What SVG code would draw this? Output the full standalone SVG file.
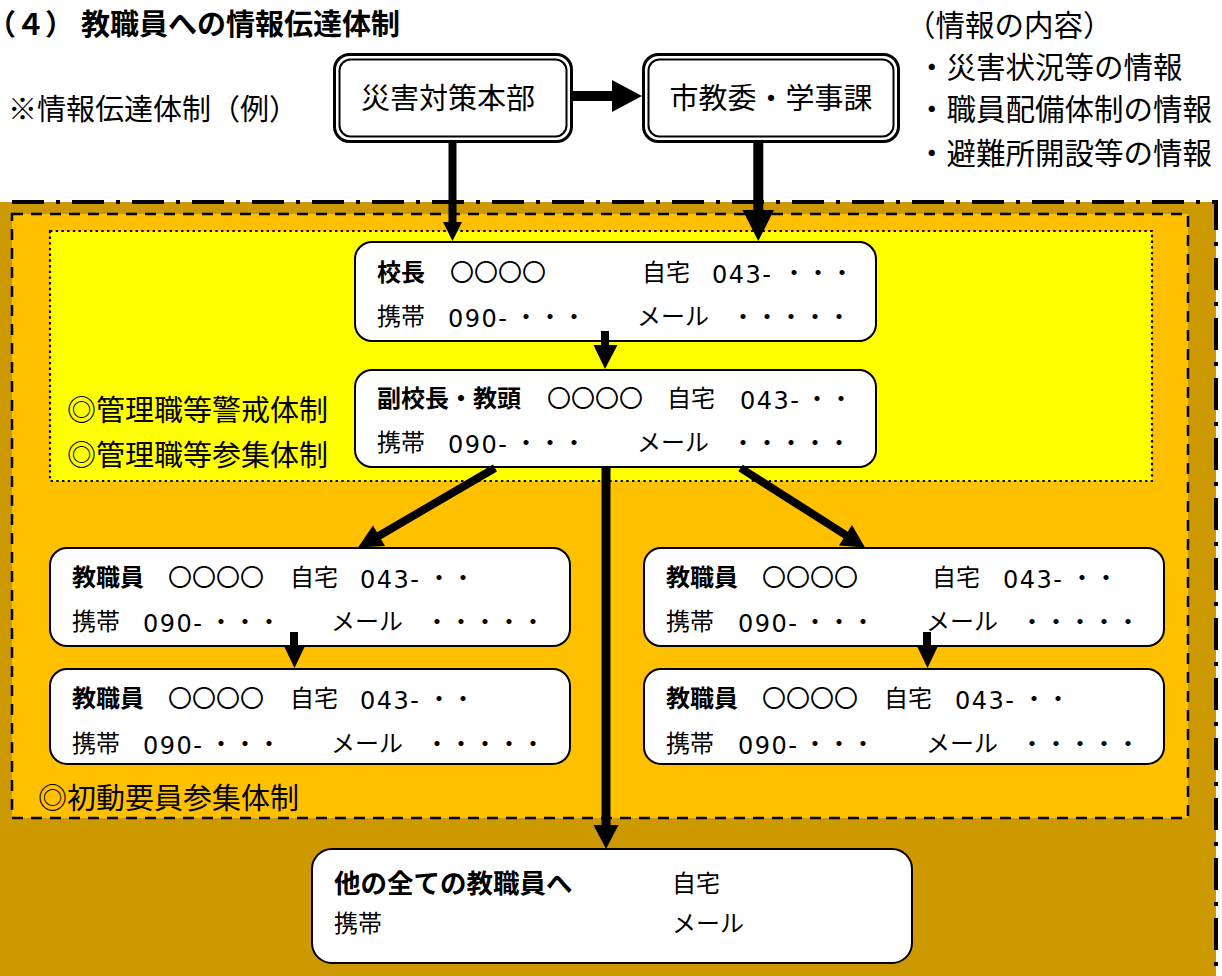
<svg xmlns="http://www.w3.org/2000/svg" width="1222" height="976" viewBox="0 0 1222 976">
<style>
text{font-family:'Noto Sans CJK JP','Noto Sans CJK SC',sans-serif;fill:#000}
.L{font-size:29px}
.B{font-size:29px;font-weight:bold}
.r{font-size:24px}
.b{font-size:24px;font-weight:bold}
.n{font-family:'DejaVu Sans',sans-serif;letter-spacing:1.5px;baseline-shift:-2px}
.box{fill:#fff;stroke:#000;stroke-width:2}
.dbo{fill:#fff;stroke:#000;stroke-width:3}
.dbi{fill:none;stroke:#000;stroke-width:2}
</style>
<rect width="1222" height="976" fill="#fff"/>
<g id="regions">
<rect x="-20" y="202" width="1236" height="820" fill="#CC9900" stroke="#000" stroke-width="4" stroke-dasharray="32 12 4 12" stroke-dashoffset="28"/>
<rect x="12" y="214" width="1176" height="604" fill="#FFC000" stroke="#000" stroke-width="2.5" stroke-dasharray="11 8"/>
<rect x="50" y="231" width="1102" height="250" fill="#FFFF00" stroke="#000" stroke-width="2.2" stroke-dasharray="2.4 3.3"/>
</g>
<g id="labels">
<text class="B" x="-13" y="34.5">（４）</text>
<text class="B" x="81" y="34.5">教職員への情報伝達体制</text>
<text class="L" x="8" y="119.5">※情報伝達体制（例）</text>
<text class="L" x="906" y="36.2" style="font-size:29.5px">（情報の内容）</text>
<text class="L" x="917" y="78.2" style="font-size:29.5px">・災害状況等の情報</text>
<text class="L" x="917" y="120.2" style="font-size:29.5px">・職員配備体制の情報</text>
<text class="L" x="917" y="164.2" style="font-size:29.5px">・避難所開設等の情報</text>
<text class="L" x="67" y="421">◎管理職等警戒体制</text>
<text class="L" x="67" y="466">◎管理職等参集体制</text>
<text class="L" x="38" y="809">◎初動要員参集体制</text>
</g>
<g id="node-saigai">
<rect class="dbo" x="334.5" y="54.5" width="237" height="87" rx="15"/>
<rect class="dbi" x="339.5" y="59.5" width="227" height="77" rx="11"/>
<text class="L" x="448" y="109" text-anchor="middle">災害対策本部</text>
</g>
<g id="node-shikyoui">
<rect class="dbo" x="643.5" y="54.5" width="255" height="87" rx="15"/>
<rect class="dbi" x="648.5" y="59.5" width="245" height="77" rx="11"/>
<text class="L" x="771" y="109" text-anchor="middle">市教委・学事課</text>
</g>
<g id="node-kocho">
<rect class="box" x="355" y="242" width="521" height="99" rx="17"/>
<text class="b" x="377" y="280.5">校長</text>
<text class="r" x="450" y="280.5">〇〇〇〇</text>
<text class="r" x="642" y="280.5">自宅</text>
<text class="r" x="712" y="280.5"><tspan class="n">043-</tspan><tspan x="782">・・・</tspan></text>
<text class="r" x="377" y="324.5">携帯</text>
<text class="r" x="448" y="324.5"><tspan class="n">090-</tspan><tspan x="514">・・・</tspan></text>
<text class="r" x="637" y="324.5">メール</text>
<text class="r" x="731" y="324.5">・・・・・</text>
</g>
<g id="node-fukukocho">
<rect class="box" x="355" y="370" width="521" height="97" rx="17"/>
<text class="b" x="377" y="407">副校長・教頭</text>
<text class="r" x="547" y="407">〇〇〇〇</text>
<text class="r" x="667" y="407">自宅</text>
<text class="r" x="740" y="407"><tspan class="n">043-</tspan><tspan x="805">・・</tspan></text>
<text class="r" x="377" y="450.5">携帯</text>
<text class="r" x="448" y="450.5"><tspan class="n">090-</tspan><tspan x="514">・・・</tspan></text>
<text class="r" x="637" y="450.5">メール</text>
<text class="r" x="731" y="450.5">・・・・・</text>
</g>
<g id="node-staff-l1">
<rect class="box" x="50" y="548" width="520" height="98" rx="17"/>
<text class="b" x="72" y="586">教職員</text>
<text class="r" x="168" y="586">〇〇〇〇</text>
<text class="r" x="290" y="586">自宅</text>
<text class="r" x="360" y="586"><tspan class="n">043-</tspan><tspan x="427">・・</tspan></text>
<text class="r" x="72" y="630">携帯</text>
<text class="r" x="143" y="630"><tspan class="n">090-</tspan><tspan x="209">・・・</tspan></text>
<text class="r" x="331" y="630">メール</text>
<text class="r" x="425" y="630">・・・・・</text>
</g>
<g id="node-staff-l2">
<rect class="box" x="50" y="669" width="520" height="95" rx="17"/>
<text class="b" x="72" y="707">教職員</text>
<text class="r" x="168" y="707">〇〇〇〇</text>
<text class="r" x="290" y="707">自宅</text>
<text class="r" x="360" y="707"><tspan class="n">043-</tspan><tspan x="427">・・</tspan></text>
<text class="r" x="72" y="751.5">携帯</text>
<text class="r" x="143" y="751.5"><tspan class="n">090-</tspan><tspan x="209">・・・</tspan></text>
<text class="r" x="331" y="751.5">メール</text>
<text class="r" x="425" y="751.5">・・・・・</text>
</g>
<g id="node-staff-r1">
<rect class="box" x="644" y="548" width="520" height="98" rx="17"/>
<text class="b" x="666" y="586">教職員</text>
<text class="r" x="762" y="586">〇〇〇〇</text>
<text class="r" x="932" y="586">自宅</text>
<text class="r" x="1003" y="586"><tspan class="n">043-</tspan><tspan x="1070">・・</tspan></text>
<text class="r" x="666" y="630">携帯</text>
<text class="r" x="738" y="630"><tspan class="n">090-</tspan><tspan x="803">・・・</tspan></text>
<text class="r" x="926" y="630">メール</text>
<text class="r" x="1020" y="630">・・・・・</text>
</g>
<g id="node-staff-r2">
<rect class="box" x="644" y="669" width="520" height="95" rx="17"/>
<text class="b" x="666" y="707">教職員</text>
<text class="r" x="762" y="707">〇〇〇〇</text>
<text class="r" x="884" y="707">自宅</text>
<text class="r" x="955" y="707"><tspan class="n">043-</tspan><tspan x="1022">・・</tspan></text>
<text class="r" x="666" y="751.5">携帯</text>
<text class="r" x="738" y="751.5"><tspan class="n">090-</tspan><tspan x="803">・・・</tspan></text>
<text class="r" x="926" y="751.5">メール</text>
<text class="r" x="1020" y="751.5">・・・・・</text>
</g>
<g id="node-all">
<rect class="box" x="312" y="849" width="600" height="114" rx="20"/>
<text class="b" x="334" y="893" style="font-size:26.5px">他の全ての教職員へ</text>
<text class="r" x="672" y="892">自宅</text>
<text class="r" x="334" y="932">携帯</text>
<text class="r" x="672" y="932">メール</text>
</g>
<g id="connectors" fill="#000" stroke="#000">
<line x1="572" y1="96" x2="614" y2="96" stroke-width="10"/>
<polygon points="612,80 642,96 612,112" stroke="none"/>
<line x1="452.5" y1="142" x2="452.5" y2="224" stroke-width="8"/>
<polygon points="443,222 462,222 452.5,241" stroke="none"/>
<line x1="758.3" y1="142" x2="758.3" y2="212" stroke-width="10"/>
<polygon points="742.5,210 774,210 758.3,241" stroke="none"/>
<line x1="605" y1="331" x2="605" y2="347" stroke-width="8"/>
<polygon points="593.5,345 617.5,345 605,369" stroke="none"/>
<line x1="495" y1="468" x2="376" y2="537.5" stroke-width="8"/>
<polygon points="358,547.5 373,525.5 385,546" stroke="none"/>
<line x1="740.5" y1="468" x2="848" y2="536.5" stroke-width="8"/>
<polygon points="865,547.5 852,525 839,545.5" stroke="none"/>
<line x1="606" y1="467" x2="606" y2="827" stroke-width="9"/>
<polygon points="593.5,825 618.5,825 606,849" stroke="none"/>
<line x1="294" y1="632" x2="294" y2="647" stroke-width="8"/>
<polygon points="283.5,645 305.5,645 294.5,668" stroke="none"/>
<line x1="927" y1="632" x2="927" y2="647" stroke-width="8"/>
<polygon points="916.5,645 938.5,645 927.5,668" stroke="none"/>
</g>
</svg>
